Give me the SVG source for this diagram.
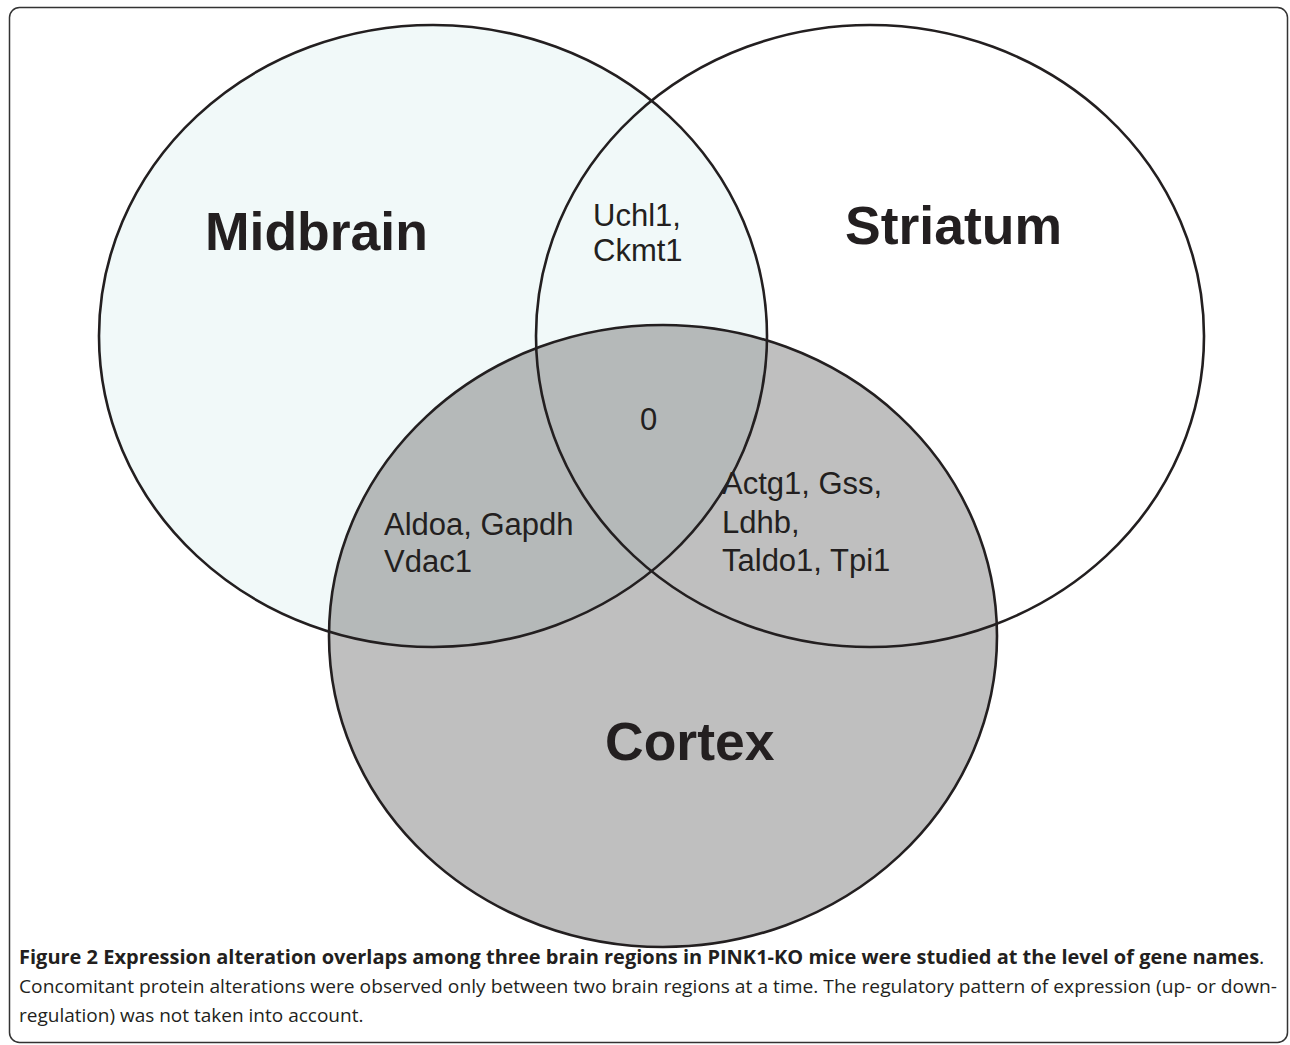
<svg xmlns="http://www.w3.org/2000/svg" width="1290" height="1045" viewBox="0 0 1290 1045">
<style>
.set{stroke:#231f20;stroke-width:2.6}
.big{font-family:"Liberation Sans",Arial,sans-serif;font-weight:bold;font-size:53.5px;fill:#231f20}
.lab{font-family:"Liberation Sans",Arial,sans-serif;font-size:31px;fill:#231f20}
.cap{font-family:"Open Sans","Noto Sans",sans-serif;font-size:20px;fill:#231f20}
.cap2{font-family:"Open Sans","Noto Sans",sans-serif;font-size:19px;fill:#231f20}
</style>
<defs>
<clipPath id="clipM"><ellipse cx="433" cy="336" rx="334" ry="311"/></clipPath>
</defs>
<rect x="9.5" y="7.5" width="1278" height="1035" rx="10" fill="none" stroke="#333" stroke-width="1.5"/>
<g id="striatum">
<ellipse cx="870" cy="336" rx="334" ry="311" fill="#ffffff"/>
</g>
<g id="midbrain">
<ellipse cx="433" cy="336" rx="334" ry="311" fill="#f1f9f9"/>
</g>
<g id="cortex">
<ellipse cx="663" cy="636" rx="334" ry="311" fill="#bfbfbf"/>
<ellipse cx="663" cy="636" rx="334" ry="311" fill="#b5b9b9" clip-path="url(#clipM)"/>
</g>
<g id="outlines" fill="none">
<ellipse class="set" cx="870" cy="336" rx="334" ry="311"/>
<ellipse class="set" cx="433" cy="336" rx="334" ry="311"/>
<ellipse class="set" cx="663" cy="636" rx="334" ry="311"/>
</g>
<g id="labels">
<text class="big" x="205" y="250">Midbrain</text>
<text class="big" x="845" y="244">Striatum</text>
<text class="big" x="605" y="760">Cortex</text>
<text class="lab" x="593" y="226">Uchl1,</text>
<text class="lab" x="593" y="261">Ckmt1</text>
<text class="lab" x="640" y="430">0</text>
<text class="lab" x="384" y="535">Aldoa, Gapdh</text>
<text class="lab" x="384" y="572">Vdac1</text>
<text class="lab" x="722" y="494">Actg1, Gss,</text>
<text class="lab" x="722" y="533">Ldhb,</text>
<text class="lab" x="722" y="571">Taldo1, Tpi1</text>
</g>
<g id="caption">
<text class="cap" x="19" y="964"><tspan font-weight="bold">Figure 2 Expression alteration overlaps among three brain regions in PINK1-KO mice were studied at the level of gene names</tspan>.</text>
<text class="cap2" x="19" y="993" textLength="1258" lengthAdjust="spacingAndGlyphs">Concomitant protein alterations were observed only between two brain regions at a time. The regulatory pattern of expression (up- or down-</text>
<text class="cap2" x="19" y="1022">regulation) was not taken into account.</text>
</g>
</svg>
